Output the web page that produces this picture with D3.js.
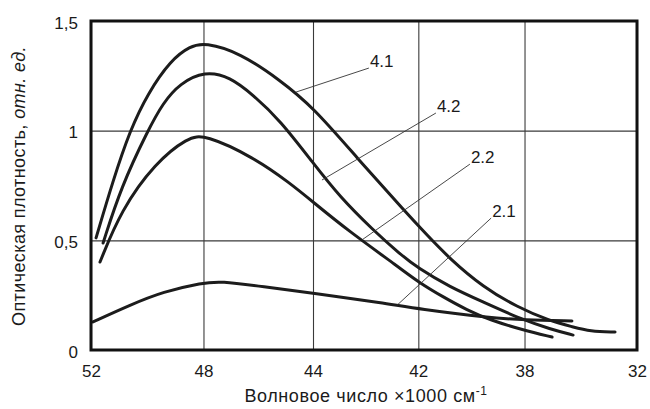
<!DOCTYPE html>
<html>
<head>
<meta charset="utf-8">
<script src="https://cdn.jsdelivr.net/npm/d3@7"></script>
<style>
  html, body { margin: 0; padding: 0; background: #fff; }
  svg { display: block; }
  text { font-family: "Liberation Sans", Arial, sans-serif; fill: #1a1a1a; }
</style>
</head>
<body>
<svg id="chart" width="650" height="409"></svg>
<script>
// ---- data (wavenumber ×1000 cm^-1, optical density) ----
const xTicks = [52, 48, 44, 42, 38, 32];
const yTicks = [0, 0.5, 1, 1.5];

const s41x = [51.82, 51.22, 50.61, 49.97, 49.16, 48.48, 47.95, 46.67, 45.21, 44.0, 43.16, 42.21, 41.75, 40.81, 39.56, 38.28, 36.64, 35.41, 34.51, 33.17];
const s41y = [0.511, 0.771, 1.003, 1.172, 1.322, 1.385, 1.402, 1.355, 1.231, 1.108, 0.875, 0.620, 0.534, 0.415, 0.287, 0.196, 0.132, 0.105, 0.085, 0.082];

const s42x = [51.57, 50.93, 49.97, 49.44, 48.84, 47.95, 47.03, 46.19, 45.21, 44.0, 43.49, 42.86, 42.35, 42.01, 40.81, 39.56, 38.06, 36.64, 35.41];
const s42y = [0.488, 0.743, 1.003, 1.126, 1.215, 1.272, 1.245, 1.163, 1.049, 0.853, 0.698, 0.547, 0.438, 0.374, 0.287, 0.219, 0.137, 0.096, 0.068];

const s22x = [51.68, 50.93, 49.72, 48.55, 47.95, 46.19, 44.84, 44.0, 43.35, 42.35, 42.0, 41.07, 40.16, 39.30, 38.06, 36.53];
const s22y = [0.401, 0.638, 0.853, 0.970, 0.982, 0.880, 0.761, 0.675, 0.547, 0.374, 0.310, 0.242, 0.182, 0.137, 0.091, 0.059];

const s21x = [51.93, 50.61, 49.44, 48.02, 47.40, 45.83, 44.0, 42.63, 42.0, 39.30, 38.02, 35.47];
const s21y = [0.128, 0.205, 0.266, 0.306, 0.314, 0.289, 0.259, 0.213, 0.187, 0.146, 0.137, 0.132];

const seriesNames = ["4.1", "4.2", "2.2", "2.1"];
// label text anchor and the point on the curve that the leader touches (data units)
const labelX = [42.92, 41.30, 40.02, 39.22];
const labelY = [1.290, 1.085, 0.852, 0.606];
const leaderX = [44.62, 43.83, 43.07, 42.40];
const leaderY = [1.176, 0.775, 0.502, 0.205];

// ---- layout ----
const W = 650, H = 409;
const m = { left: 91, top: 21, right: 13, bottom: 59 };
const iw = W - m.left - m.right;   // 546
const ih = H - m.top - m.bottom;   // 329
const FONT = "Liberation Sans, Arial, sans-serif";

const svg = d3.select("#chart");
const g = svg.append("g").attr("transform", `translate(${m.left},${m.top})`);

// the original axis places its labelled ticks at (almost) equal steps
const xFrac = [0, 0.206, 0.4066, 0.5995, 0.794, 1];
const x = d3.scaleLinear().domain(xTicks).range(xFrac.map(f => f * iw));
const y = d3.scaleLinear().domain([0, 1.5]).range([ih, 0]);

// grid
g.append("g")
  .attr("transform", `translate(0,${ih})`)
  .call(d3.axisBottom(x).tickValues(xTicks).tickSize(-ih).tickFormat(""))
  .call(a => a.select(".domain").remove())
  .call(a => a.selectAll("line").attr("stroke", "#3a3a3a").attr("stroke-width", 1.1));
g.append("g")
  .call(d3.axisLeft(y).tickValues(yTicks).tickSize(-iw).tickFormat(""))
  .call(a => a.select(".domain").remove())
  .call(a => a.selectAll("line").attr("stroke", "#3a3a3a").attr("stroke-width", 1.1));

// tick labels
g.append("g")
  .attr("transform", `translate(0,${ih})`)
  .call(d3.axisBottom(x).tickValues(xTicks).tickSize(0).tickPadding(15).tickFormat(d => String(d)))
  .call(a => a.select(".domain").remove())
  .call(a => a.selectAll("text").attr("font-size", 17).attr("font-family", FONT).attr("fill", "#1a1a1a"));
g.append("g")
  .call(d3.axisLeft(y).tickValues(yTicks).tickSize(0).tickPadding(13).tickFormat(d => String(d).replace(".", ",")))
  .call(a => a.select(".domain").remove())
  .call(a => a.selectAll("text").attr("font-size", 17).attr("font-family", FONT).attr("fill", "#1a1a1a").attr("dy", "0.42em"));

// curves
const xs = [s41x, s42x, s22x, s21x];
const ys = [s41y, s42y, s22y, s21y];
const line = d3.line().x(d => x(d[0])).y(d => y(d[1])).curve(d3.curveBasis);
seriesNames.forEach((name, i) => {
  const pts = d3.zip(xs[i], ys[i]);
  g.append("path").datum(pts)
    .attr("d", line)
    .attr("fill", "none")
    .attr("stroke", "#1c1c1c")
    .attr("stroke-width", 3)
    .attr("stroke-linecap", "round")
    .attr("stroke-linejoin", "round");
});

// leaders and labels
seriesNames.forEach((name, i) => {
  g.append("line")
    .attr("x1", x(leaderX[i])).attr("y1", y(leaderY[i]))
    .attr("x2", x(labelX[i]) - 1).attr("y2", y(labelY[i]) + 1)
    .attr("stroke", "#333").attr("stroke-width", 0.9);
  g.append("text")
    .attr("x", x(labelX[i])).attr("y", y(labelY[i]))
    .attr("font-size", 17)
    .text(name);
});

// frame
g.append("rect").attr("x", 0).attr("y", 0).attr("width", iw).attr("height", ih)
  .attr("fill", "none").attr("stroke", "#111").attr("stroke-width", 3);

// axis titles
const xt = svg.append("text")
  .attr("x", 366).attr("y", 402)
  .attr("text-anchor", "middle").attr("font-size", 18).attr("letter-spacing", 0.6);
xt.append("tspan").text("Волновое число ×1000 см");
xt.append("tspan").attr("dy", -7).attr("font-size", 12).text("-1");

const yt = svg.append("text")
  .attr("transform", `translate(25,186) rotate(-90)`)
  .attr("text-anchor", "middle").attr("font-size", 18).attr("letter-spacing", 0.4);
yt.append("tspan").text("Оптическая плотность, ");
yt.append("tspan").attr("font-style", "italic").text("отн. ед.");
</script>
</body>
</html>
